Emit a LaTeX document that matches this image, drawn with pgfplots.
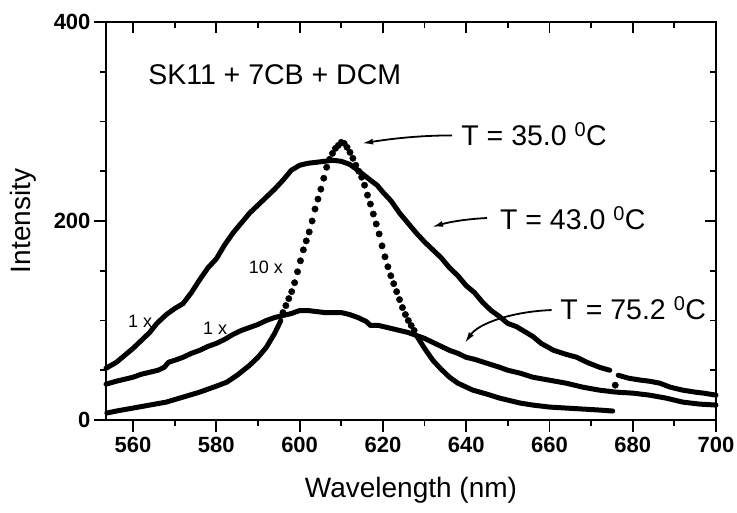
\documentclass[border=0pt]{standalone}
\usepackage{fontspec}
\setmainfont{Liberation Sans}
\usepackage{pgfplots}
\pgfplotsset{compat=1.18}
\usetikzlibrary{calc,arrows.meta}

\begin{document}
\begin{tikzpicture}
\pgfplotsset{
  common/.style={
    scale only axis, width=610pt, height=398pt,
    xmin=553.5, xmax=700, ymin=0, ymax=400,
    xtick={560,580,...,700}, minor xtick={570,590,...,690},
    ytick={0,200,400}, minor ytick={50,100,150,250,300,350},
    axis line style={line width=2pt},
    every tick/.style={line width=1.8pt, black},
  },
  curve/.style={line width=5pt, line join=round, line cap=round},
  dots/.style={only marks, mark=*, mark size=3.2pt},
}
\begin{axis}[common,
  tick pos=left, tick align=outside,
  major tick length=12pt, minor tick length=6pt,
  /pgf/number format/assume math mode=true,
  ticklabel style={font=\fontsize{22}{24}\selectfont\bfseries},
  xticklabel style={yshift=-2pt},
  xlabel={Wavelength (nm)}, ylabel={Intensity},
  label style={font=\fontsize{28}{30}\selectfont},
  xlabel style={at={(rel axis cs:0.5,0)}, anchor=base, yshift=-78pt},
  ylabel style={at={(rel axis cs:0,0.5)}, anchor=base, yshift=75pt},
  clip=false,
]
\coordinate (bl) at (rel axis cs:0,0);
\coordinate (tr) at (rel axis cs:1,1);

% T = 35.0 C (10x)
\addplot[curve] coordinates {
(553.7,7) (556,9) (560,12) (564,15) (568,18) (572,23) (576,28) (580,34)
(582.5,38) (585,45) (588,55) (590,63) (592,73) (594,87) (595.5,100)
};
\addplot[dots] coordinates {
(596.0,108) (596.7,115) (597.4,122) (598.1,129) (598.8,138) (599.5,149)
(600.2,160) (600.9,171) (601.6,180) (602.3,189) (603.0,200) (603.7,212)
(604.4,222) (605.1,232) (605.8,243) (606.5,254) (607.2,262) (607.9,268)
(608.6,273) (609.3,276) (610.0,279) (610.7,278) (611.4,274) (612.1,269)
(612.8,263) (613.5,256) (614.2,250) (614.9,244) (615.6,236) (616.3,226)
(617.0,217) (617.7,207) (618.4,197) (619.1,187) (619.8,175) (620.5,164)
(621.2,154) (621.9,145) (622.6,137) (623.3,129) (624.0,121) (624.7,113)
(625.4,106) (626.1,100) (626.8,95) (627.5,90)
};
\addplot[curve] coordinates {
(628.2,84) (630,72) (632,60) (634,51) (636,43) (638,37) (641.6,30) (645,26)
(648,22) (653,17) (656,15) (660,13) (664,12) (668,11) (672,10) (675.2,9)
};

% T = 43.0 C (1x)
\addplot[curve] coordinates {
(553.5,52) (556,58) (558,65) (560,72) (562,80) (564,88) (565.7,97) (568,106)
(570,112) (572,117) (574,128) (576,141) (578,153) (580,162) (582,176) (584,188)
(586,198) (588,208) (590,216) (592,224) (594,232) (596,241) (598,251) (600,256)
(602,258) (604,259) (606,260) (608,261) (610,260) (612,257) (614,251) (615.5,246)
(617,241) (618.6,236) (620,229) (622,220) (624,208) (626,198) (628,188) (630,179)
(632,171) (634,163) (636,153) (638,145) (640,135) (642,128) (644,118) (646,110)
(648,104) (650,97) (652,94) (654,89) (656,84) (658,77) (661,70) (664,66)
(666.6,63) (669,58) (672,53) (674.5,50)
};
\addplot[curve] coordinates {
(676.5,45) (679,42) (682,40) (684,39) (686.5,37) (689,33) (692,30) (695,28)
(697,27) (700,25)
};
\addplot[dots] coordinates {(675.8,35)};

% T = 75.2 C (1x)
\addplot[curve] coordinates {
(553.5,36) (556,39) (558,41) (560,43) (562,46) (564,48) (566,50) (567.5,53)
(568.5,58) (570,60) (572,63) (574,67) (576,70) (578,74) (580,77) (582,81)
(584,86) (586,90) (588,93) (590,96) (592,100) (594,103) (596,105) (598,107)
(600,110) (602,110) (604,109) (606,108) (608,108) (610,108) (612,106) (614,103)
(616,99) (617,95) (619,95) (621,93) (624,90) (626,88) (628,85) (630,82)
(632,78) (634,74) (636,70) (638,67) (640,63) (642,61) (645,57) (648,53)
(650,50) (653,47) (656,43) (660,40) (664,37) (668,33) (672,30) (676,28)
(680,27) (684,25) (688,22) (692,18) (696,16) (700,15)
};

% annotations
\node[anchor=base west, inner sep=0pt, font=\fontsize{28.5}{30}\selectfont] at (axis cs:563.6,336.7) {SK11 + 7CB + DCM};
\node[anchor=base west, inner sep=0pt, font=\fontsize{28.5}{30}\selectfont] at (axis cs:638.8,275.4) {T = 35.0 \textsuperscript{0}C};
\node[anchor=base west, inner sep=0pt, font=\fontsize{28.5}{30}\selectfont] at (axis cs:648.1,191) {T = 43.0 \textsuperscript{0}C};
\node[anchor=base west, inner sep=0pt, font=\fontsize{28.5}{30}\selectfont] at (axis cs:662.6,100.5) {T = 75.2 \textsuperscript{0}C};
\node[inner sep=0pt, font=\fontsize{18}{20}\selectfont] at (axis cs:591.9,153) {10 x};
\node[inner sep=0pt, font=\fontsize{18}{20}\selectfont] at (axis cs:561.7,99) {1 x};
\node[inner sep=0pt, font=\fontsize{18}{20}\selectfont] at (axis cs:579.7,92) {1 x};

\draw[line width=1.8pt, -{Latex[length=11pt,width=6pt]}]
  (axis cs:636.6,286) .. controls (axis cs:628,286) and (axis cs:621,282) .. (axis cs:615,278);
\draw[line width=1.8pt, -{Latex[length=11pt,width=6pt]}]
  (axis cs:645,203) .. controls (axis cs:640,202) and (axis cs:636,199) .. (axis cs:631.8,194);
\draw[line width=1.8pt, -{Latex[length=11pt,width=6pt]}]
  (axis cs:660.5,110.5) .. controls (axis cs:651,109) and (axis cs:643,97) .. (axis cs:639.7,77.5);
\end{axis}

\begin{axis}[common,
  tick pos=right, tick align=inside,
  major tick length=11pt, minor tick length=6pt,
  xticklabels={}, yticklabels={},
]
\end{axis}

\pgfresetboundingbox
\useasboundingbox ($(bl)+(-106pt,-93pt)$) rectangle ($(tr)+(21pt,22pt)$);
\end{tikzpicture}
\end{document}
